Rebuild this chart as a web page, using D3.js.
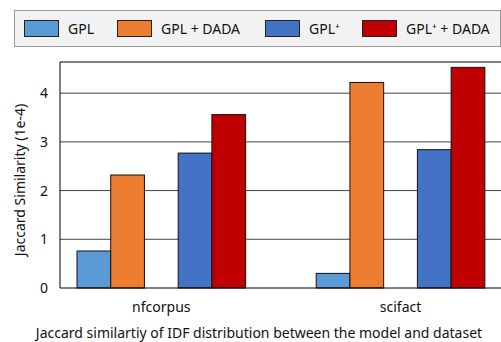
<!DOCTYPE html>
<html>
<head>
<meta charset="utf-8">
<script src="https://cdn.jsdelivr.net/npm/d3@7"></script>
<style>
  body { margin: 0; background: #fff; }
  svg { display: block; font-family: "Noto Sans", sans-serif; }
</style>
</head>
<body>
<svg id="chart" width="501" height="342"></svg>
<script>
const datasets = ["nfcorpus", "scifact"];
const methods = ["GPL", "GPL + DADA", "GPL⁺", "GPL⁺ + DADA"];
const colors = ["#5b9bd5", "#ed7d31", "#4472c4", "#c00000"];
const gpl = [0.76, 0.30];
const gplDada = [2.32, 4.22];
const gplPlus = [2.77, 2.84];
const gplPlusDada = [3.56, 4.53];
const yTicks = [0, 1, 2, 3, 4];

const series = [gpl, gplDada, gplPlus, gplPlusDada];
const offsets = [-2, -1, 1, 2];
const barW = 0.141;

const margin = { top: 62, left: 60, bottom: 54 },
  width = 441,
  height = 342 - margin.top - margin.bottom;

const svg = d3.select("#chart");
const g = svg.append("g").attr("transform", `translate(${margin.left},${margin.top})`);

const x = d3.scaleLinear().domain([-0.4235, 1.42]).range([0, width]);
const y = d3.scaleLinear().domain([0, 4.64]).range([height, 0]);

// grid lines
g.selectAll(".grid")
  .data(yTicks.slice(1))
  .enter()
  .append("line")
  .attr("x1", 0)
  .attr("x2", width)
  .attr("y1", (d) => y(d))
  .attr("y2", (d) => y(d))
  .attr("stroke", "#444")
  .attr("stroke-width", 1);

// bars
series.forEach((vals, i) => {
  g.selectAll(".bar" + i)
    .data(vals)
    .enter()
    .append("rect")
    .attr("x", (d, j) => x(j + offsets[i] * barW - barW / 2))
    .attr("y", (d) => y(d))
    .attr("width", x(barW) - x(0))
    .attr("height", (d) => y(0) - y(d))
    .attr("fill", colors[i])
    .attr("stroke", "#111")
    .attr("stroke-width", 1);
});

// y axis
const yAxis = g.append("g").call(
  d3.axisLeft(y).tickValues(yTicks).tickFormat(d3.format("d")).tickSize(0).tickPadding(12)
);
yAxis.select(".domain").remove();
yAxis.selectAll("text").style("font-size", "14px").style("font-family", "Noto Sans").attr("fill", "#111");

// spines
g.append("line").attr("x1", 0).attr("x2", 0).attr("y1", 0).attr("y2", height).attr("stroke", "#000");
g.append("line").attr("x1", 0).attr("x2", width).attr("y1", 0).attr("y2", 0).attr("stroke", "#000");
g.append("line").attr("x1", 0).attr("x2", width).attr("y1", height).attr("y2", height).attr("stroke", "#000");

// category labels
g.selectAll(".cat")
  .data(datasets)
  .enter()
  .append("text")
  .attr("x", (d, i) => x(i))
  .attr("y", height + 24)
  .attr("text-anchor", "middle")
  .style("font-size", "14px")
  .attr("fill", "#111")
  .text((d) => d);

svg.append("text")
  .attr("x", 259)
  .attr("y", 338)
  .attr("text-anchor", "middle")
  .style("font-size", "14px")
  .attr("fill", "#111")
  .text("Jaccard similartiy of IDF distribution between the model and dataset");

svg.append("text")
  .attr("transform", `translate(25,${margin.top + height / 2 + 5}) rotate(-90)`)
  .attr("text-anchor", "middle")
  .style("font-size", "14px")
  .attr("fill", "#111")
  .text("Jaccard Similarity (1e-4)");

// legend
const legend = svg.append("g");
legend.append("rect")
  .attr("x", 14.5).attr("y", 10.5)
  .attr("width", 486).attr("height", 36)
  .attr("fill", "#f2f2f2")
  .attr("stroke", "#999");
const legX = [24, 117, 265, 362];
methods.forEach((m, i) => {
  legend.append("rect")
    .attr("x", legX[i] + 0.5).attr("y", 20.5)
    .attr("width", 34).attr("height", 16)
    .attr("fill", colors[i])
    .attr("stroke", "#222");
  legend.append("text")
    .attr("x", legX[i] + 44).attr("y", 34)
    .style("font-size", "14px")
    .attr("fill", "#111")
    .text(m);
});
</script>
</body>
</html>
